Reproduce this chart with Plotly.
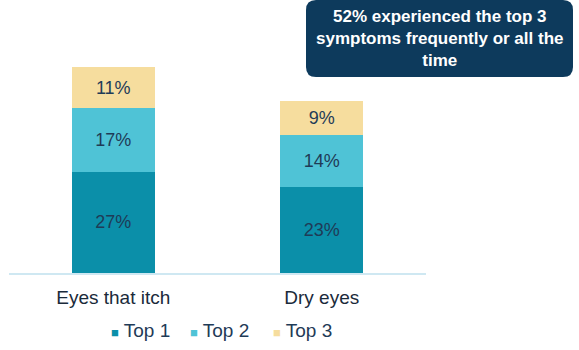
import plotly.graph_objects as go

categories = ["Eyes that itch", "Dry eyes"]
series_names = ["Top 1", "Top 2", "Top 3"]
top1 = [27, 23]
top2 = [17, 14]
top3 = [11, 9]
colors = ["#0b8fa9", "#4fc3d6", "#f6dd9e"]
callout = "52% experienced the top 3<br>symptoms frequently or all the<br>time"

FONT = "Arial, Liberation Sans, sans-serif"
W, H = 579, 350
L, R, T, B = 9, 153, 11, 77
pw, ph = W - L - R, H - T - B

fig = go.Figure()
for name, vals, col in zip(series_names, [top1, top2, top3], colors):
    fig.add_trace(go.Bar(
        x=categories, y=vals, name=name,
        marker=dict(color=col, line=dict(width=0)),
        text=[f"{v}%" for v in vals],
        textposition="inside", insidetextanchor="middle",
        textfont=dict(family=FONT, size=18, color="#1f3b57"),
        width=0.4, hoverinfo="skip", showlegend=False,
    ))

def px(x):
    return (x - L) / pw
def py(y):
    return (H - B - y) / ph

# rounded callout box
x0, x1, y0, y1, r = 306, 573, 0, 77, 10
path = (f"M {px(x0+r)},{py(y0)} L {px(x1-r)},{py(y0)} "
        f"Q {px(x1)},{py(y0)} {px(x1)},{py(y0+r)} "
        f"L {px(x1)},{py(y1-r)} Q {px(x1)},{py(y1)} {px(x1-r)},{py(y1)} "
        f"L {px(x0+r)},{py(y1)} Q {px(x0)},{py(y1)} {px(x0)},{py(y1-r)} "
        f"L {px(x0)},{py(y0+r)} Q {px(x0)},{py(y0)} {px(x0+r)},{py(y0)} Z")
fig.add_shape(type="path", path=path, xref="paper", yref="paper",
              fillcolor="#0d3a5c", line=dict(width=0), layer="above")
fig.add_annotation(text=f"<b>{callout}</b>", xref="paper", yref="paper",
                   x=px((x0 + x1) / 2), y=py(39), xanchor="center", yanchor="middle",
                   showarrow=False, align="center",
                   font=dict(family=FONT, size=17, color="white"))

# legend drawn as text entries
legend_x = [109, 188, 271]
for name, col, lx in zip(series_names, colors, legend_x):
    fig.add_annotation(
        text=f"<span style='color:{col};font-size:13px'>■</span> {name}",
        xref="paper", yref="paper", x=px(lx), y=py(330),
        xanchor="left", yanchor="middle", showarrow=False,
        font=dict(family=FONT, size=19, color="#1f3b57"))

fig.update_layout(
    barmode="stack",
    width=W, height=H,
    margin=dict(l=L, r=R, t=T, b=B, pad=0),
    paper_bgcolor="white", plot_bgcolor="white",
    showlegend=False,
    xaxis=dict(showline=True, linecolor="#cfe8f2", linewidth=1.5, ticks="",
               tickfont=dict(family=FONT, size=19, color="#1a2a3a"),
               ticklabelstandoff=6, automargin=False,
               range=[-0.5, 1.5], fixedrange=True),
    yaxis=dict(range=[0, 70], visible=False, showgrid=False, fixedrange=True),
)

fig.write_html("out.html")
